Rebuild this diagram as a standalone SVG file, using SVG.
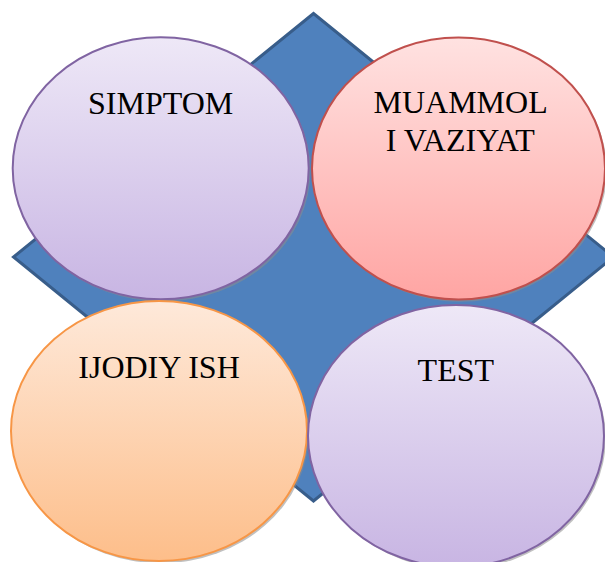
<svg xmlns="http://www.w3.org/2000/svg" width="605" height="562" viewBox="0 0 605 562">
  <style>
    .lbl { font-family: "Liberation Serif", "Times New Roman", serif; font-size: 32px; fill: #000; text-anchor: middle; }
    .shadow { fill: #8c8c8c; opacity: 0.55; }
  </style>
  <defs>
    <linearGradient id="gPurple" x1="0" y1="0" x2="0" y2="1">
      <stop offset="0" stop-color="#EEE8F7"/>
      <stop offset="1" stop-color="#C8B5E3"/>
    </linearGradient>
    <linearGradient id="gRed" x1="0" y1="0" x2="0" y2="1">
      <stop offset="0" stop-color="#FFE2E1"/>
      <stop offset="1" stop-color="#FFA5A3"/>
    </linearGradient>
    <linearGradient id="gOrange" x1="0" y1="0" x2="0" y2="1">
      <stop offset="0" stop-color="#FEE9DA"/>
      <stop offset="1" stop-color="#FDBE8A"/>
    </linearGradient>
  </defs>
  <g id="diamond">
    <polygon points="313.5,13.5 613.5,257 313.5,501 13.5,257" fill="#4F81BD" stroke="#385D8A" stroke-width="3" stroke-linejoin="miter"/>
  </g>
  <g id="connectors"></g>
  <g id="simptom">
    <ellipse class="shadow" cx="162.5" cy="170.5" rx="148" ry="131"/>
    <ellipse cx="160.7" cy="168.3" rx="148" ry="131" fill="url(#gPurple)" stroke="#8064A2" stroke-width="2"/>
    <text class="lbl" x="160.6" y="114">SIMPTOM</text>
  </g>
  <g id="muammoli-vaziyat">
    <ellipse class="shadow" cx="460.3" cy="170.7" rx="146.5" ry="131"/>
    <ellipse cx="458.5" cy="168.5" rx="146.5" ry="131" fill="url(#gRed)" stroke="#C0504D" stroke-width="2"/>
    <text class="lbl" x="460.6" y="113.3">MUAMMOL</text>
    <text class="lbl" x="460.3" y="150.7">I VAZIYAT</text>
  </g>
  <g id="ijodiy-ish">
    <ellipse class="shadow" cx="160.8" cy="433.2" rx="148" ry="130"/>
    <ellipse cx="159" cy="431" rx="148" ry="130" fill="url(#gOrange)" stroke="#F79646" stroke-width="2"/>
    <text class="lbl" x="159" y="377.7">IJODIY ISH</text>
  </g>
  <g id="test">
    <ellipse class="shadow" cx="457.8" cy="438.2" rx="148" ry="131"/>
    <ellipse cx="456" cy="436" rx="148" ry="131" fill="url(#gPurple)" stroke="#8064A2" stroke-width="2"/>
    <text class="lbl" x="455.8" y="381.3">TEST</text>
  </g>
</svg>
